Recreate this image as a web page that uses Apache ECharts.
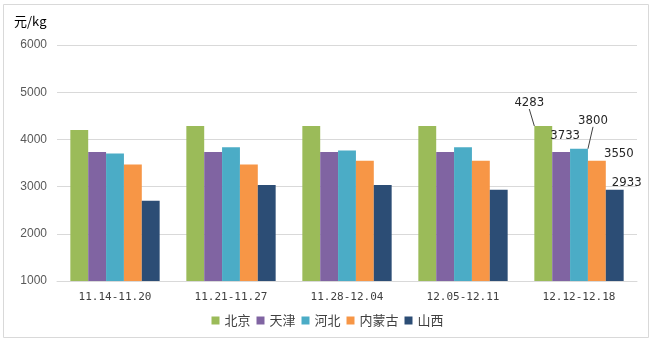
<!DOCTYPE html>
<html><head><meta charset="utf-8">
<script src="https://cdn.jsdelivr.net/npm/echarts@6/dist/echarts.min.js"></script>
<style>html,body{margin:0;padding:0;background:#fff}#c{width:655px;height:345px}</style>
</head><body><div id="c"></div>
<script>
var categories = ['11.14-11.20','11.21-11.27','11.28-12.04','12.05-12.11','12.12-12.18'];
var seriesNames = ['北京','天津','河北','内蒙古','山西'];
var beijing = [4200, 4283, 4283, 4283, 4283];
var tianjin = [3733, 3733, 3733, 3733, 3733];
var hebei = [3700, 3833, 3767, 3833, 3800];
var neimenggu = [3467, 3467, 3550, 3550, 3550];
var shanxi = [2700, 3033, 3033, 2933, 2933];
var yTicks = [1000, 2000, 3000, 4000, 5000, 6000];
var unitLabel = '元/kg';

var colors = ['#9BBB59','#8064A2','#4BACC6','#F79646','#2C4D75'];
var allData = [beijing, tianjin, hebei, neimenggu, shanxi];
var labelOffsets = [[-14,-15,true],[4,-8,false],[14,-20,true],[22,1,false],[12,1,false]];

var chart = echarts.init(document.getElementById('c'), null, {renderer:'canvas'});
var series = seriesNames.map(function(name, si){
  var last = allData[si].length - 1;
  return {
    name: name, type: 'bar', barGap: '0%', barCategoryGap: '23%',
    itemStyle: {color: colors[si]},
    data: allData[si].map(function(v, i){
      if (i !== last) return v;
      return {value: v, label: {show: true, position: 'top', distance: 2,
        color: '#262626', fontSize: 13, fontFamily: 'DejaVu Sans Condensed'},
        labelLine: {show: labelOffsets[si][2], lineStyle: {color: '#404040', width: 1}}};
    }),
    labelLayout: function(p){
      if (p.dataIndex !== last) return {};
      return {dx: labelOffsets[si][0], dy: labelOffsets[si][1]};
    },
    labelLine: {show: labelOffsets[si][2], smooth: false, length2: 0}
  };
});
chart.setOption({
  animation: false,
  graphic: [{type:'rect', shape:{x:3.5,y:4.5,width:645,height:333}, style:{fill:'none', stroke:'#d9d9d9', lineWidth:1}},
            {type:'text', left: 14, top: 15, style:{text: unitLabel, fontSize: 13, fontFamily:'Noto Sans CJK SC', fill:'#000'}}],
  grid: {left: 57, right: 18, top: 45, bottom: 64},
  legend: {data: seriesNames, left: 'center', top: 309, itemWidth: 8, itemHeight: 8, itemGap: 6,
    icon: 'rect', textStyle: {fontSize: 13, color: '#404040', fontFamily: 'Noto Sans CJK SC'}},
  xAxis: {type: 'category', data: categories,
    axisLine: {lineStyle: {color: '#d9d9d9'}}, axisTick: {show: false},
    axisLabel: {color: '#404040', fontSize: 11, fontFamily: 'DejaVu Sans Mono', margin: 11}},
  yAxis: {type: 'value', min: yTicks[0], max: yTicks[yTicks.length-1], interval: 1000,
    axisLine: {show: false}, axisTick: {show: false},
    splitLine: {lineStyle: {color: '#d9d9d9'}},
    axisLabel: {color: '#595959', fontSize: 12, fontFamily: 'Liberation Sans', margin: 10,
      formatter: function(v){ return String(v); }}},
  series: series
});
</script></body></html>
